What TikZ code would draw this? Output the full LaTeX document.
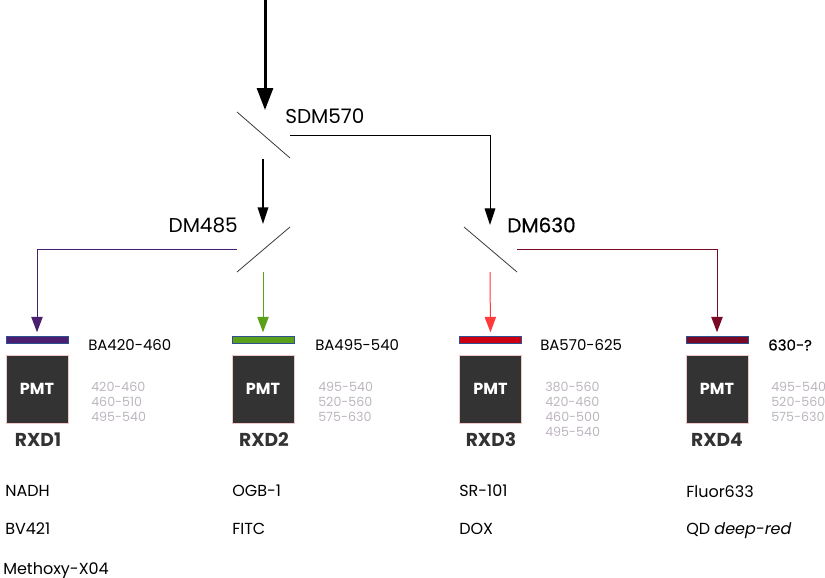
\documentclass[tikz,border=0pt]{standalone}
\usepackage{fontspec}
\setmainfont{Poppins}
\newfontfamily\heavyfont[FakeBold=0.6]{Poppins}
\usetikzlibrary{arrows.meta}
\definecolor{purpleC}{HTML}{4A1F70}
\definecolor{greenC}{HTML}{5AA01A}
\definecolor{redA}{HTML}{FF3A3A}
\definecolor{redB}{HTML}{CC0010}
\definecolor{darkredC}{HTML}{780A28}
\definecolor{barline}{HTML}{2E5090}
\definecolor{pmtfill}{HTML}{333333}
\definecolor{pmtborder}{HTML}{F0C8C8}
\definecolor{graytxt}{HTML}{BDB5BF}
\definecolor{mirrorC}{HTML}{3A3A3A}
\tikzset{
  mainarrow/.style={line width=2.25pt,-{Triangle[length=16.5pt,width=12pt]}},
  blackarrow/.style={line width=1.1pt,-{Triangle[length=12.5pt,width=8pt]}},
  thinblack/.style={line width=0.75pt,-{Triangle[length=12.5pt,width=8pt]}},
  colarrow/.style={line width=0.75pt,draw=#1,-{Triangle[length=11.5pt,width=8.5pt,fill=#1]}},
  mirror/.style={line width=0.6pt,draw=mirrorC},
  filterbar/.style={draw=barline,line width=0.6pt,fill=#1,minimum width=46.5pt,minimum height=5.25pt,inner sep=0pt},
  pmtbox/.style={draw=pmtborder,line width=0.6pt,fill=pmtfill,minimum width=46.5pt,minimum height=51pt,inner sep=0pt,text=white,font=\fontsize{12}{14}\selectfont\bfseries},
  rxd/.style={text=pmtfill,font=\fontsize{14}{16}\selectfont\bfseries,inner sep=0pt},
  dmlabel/.style={font=\fontsize{15}{17}\selectfont,inner sep=0pt},
  balabel/.style={font=\fontsize{11.2}{13}\selectfont,inner sep=0pt,anchor=west},
  rangelabel/.style={font=\fontsize{9.5}{11.25}\selectfont,text=graytxt,inner sep=0pt,anchor=north west,align=left},
  dyelabel/.style={font=\fontsize{12}{14}\selectfont,inner sep=0pt,anchor=base west},
}
\begin{document}
\begin{tikzpicture}[x=0.75pt,y=-0.75pt]
\useasboundingbox (0,0) rectangle (825,578);
% coordinates
\coordinate (src) at (265,0);
\coordinate (sdmIn) at (265,110);
\coordinate (sdmA) at (237,112);
\coordinate (sdmB) at (290,158);
\coordinate (sdmT) at (263,159);
\coordinate (sdmR) at (290,135);
\coordinate (dm485In) at (263,224);
\coordinate (dm630In) at (490,225);
\coordinate (dmAa) at (237,272);
\coordinate (dmAb) at (290,227);
\coordinate (dmBa) at (464,227);
\coordinate (dmBb) at (517,272);
\coordinate (dmAL) at (237,249);
\coordinate (dmAT) at (263,272);
\coordinate (dmBT) at (490,272);
\coordinate (dmBR) at (517,249);
% mirrors
\draw[mirror] (sdmA) -- (sdmB);
\draw[mirror] (dmAa) -- (dmAb);
\draw[mirror] (dmBa) -- (dmBb);
% labels
\node[dmlabel,anchor=west] (lsdm) at (285,116) {SDM570};
\node[dmlabel,anchor=east] (ldm485) at (238,225) {DM485};
\node[dmlabel,anchor=west] (ldm630) at (507,225) {\heavyfont DM630};
% filters
\node[filterbar=purpleC] (f1) at (37,339.5) {};
\node[filterbar=greenC] (f2) at (263,339.5) {};
\node[filterbar=redB] (f3) at (490.5,339.5) {};
\node[filterbar=darkredC] (f4) at (717,339.5) {};
% PMTs
\node[pmtbox] (p1) at (37,389) {PMT};
\node[pmtbox] (p2) at (263,389) {PMT};
\node[pmtbox] (p3) at (490.5,389) {PMT};
\node[pmtbox] (p4) at (717,389) {PMT};
\node[rxd] (r1) at (38,440) {RXD1};
\node[rxd] (r2) at (264,440) {RXD2};
\node[rxd] (r3) at (491,440) {RXD3};
\node[rxd] (r4) at (717,440) {RXD4};
% arrows
\draw[mainarrow] (src) -- (sdmIn);
\draw[blackarrow] (sdmT) -- (dm485In);
\draw[thinblack] (sdmR) -| (dm630In);
\draw[colarrow=purpleC,shorten >=2.5pt] (dmAL) -| (f1.north);
\draw[colarrow=greenC,shorten >=2.5pt] (dmAT) -- (f2.north);
\draw[colarrow=redA,shorten >=2.5pt] (dmBT) -- (f3.north);
\draw[colarrow=darkredC,shorten >=2.5pt] (dmBR) -| (f4.north);
% BA labels
\node[balabel] (b1) at (88,345) {BA420-460};
\node[balabel] (b2) at (315,345) {BA495-540};
\node[balabel] (b3) at (540,345) {BA570-625};
\node[balabel] (b4) at (768,345) {\heavyfont 630-?};
% ranges
\node[rangelabel] (g1) at (91,382) {420-460\\460-510\\495-540};
\node[rangelabel] (g2) at (318,382) {495-540\\520-560\\575-630};
\node[rangelabel] (g3) at (545,382) {380-560\\420-460\\460-500\\495-540};
\node[rangelabel] (g4) at (771,382) {495-540\\520-560\\575-630};
% dyes
\node[dyelabel] (d1) at (5,496) {NADH};
\node[dyelabel] (d2) at (5,534) {BV421};
\node[dyelabel] (d3) at (3,574) {Methoxy-X04};
\node[dyelabel] (d4) at (232,496) {OGB-1};
\node[dyelabel] (d5) at (232,534) {FITC};
\node[dyelabel] (d6) at (459,496) {SR-101};
\node[dyelabel] (d7) at (459,534) {DOX};
\node[dyelabel] (d8) at (686,497) {Fluor633};
\node[dyelabel] (d9) at (686,534) {QD \textit{deep-red}};
\end{tikzpicture}
\end{document}
